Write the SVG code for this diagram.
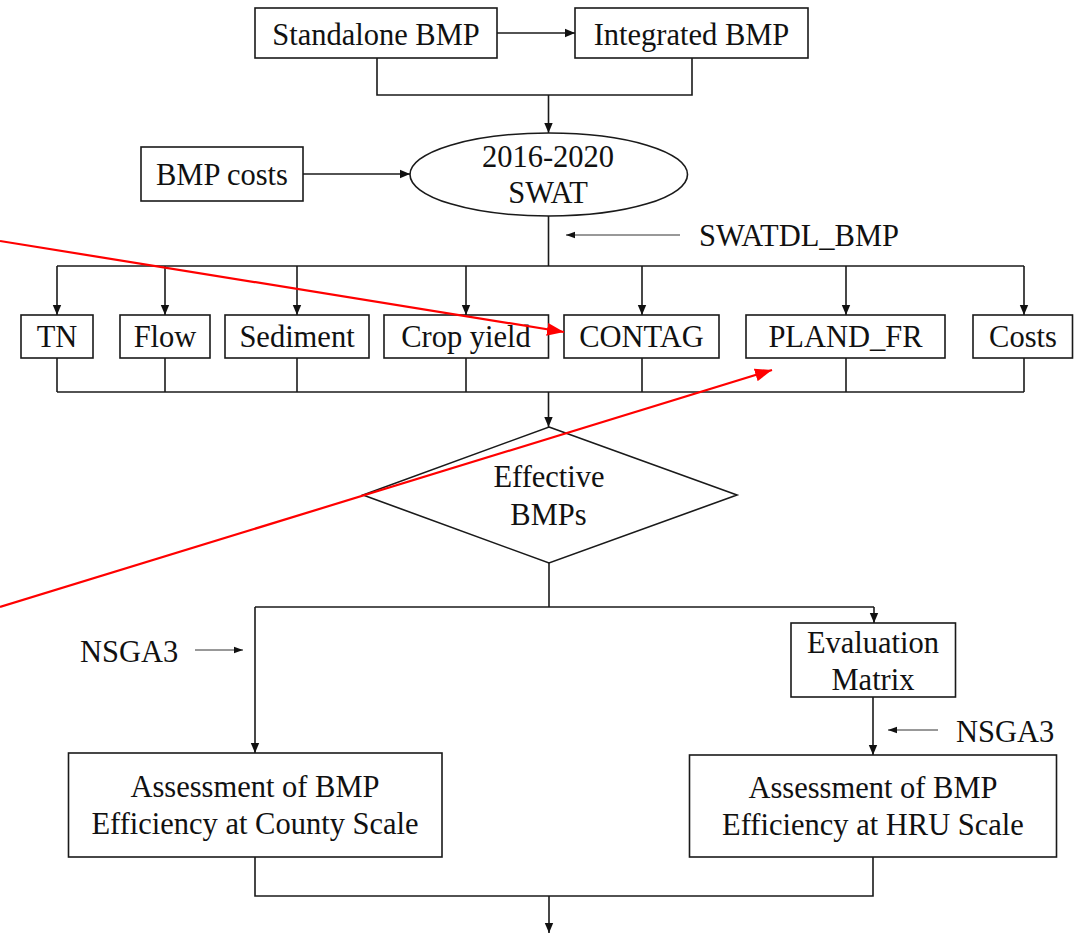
<svg xmlns="http://www.w3.org/2000/svg" width="1074" height="933" viewBox="0 0 1074 933">
  <style>
    .box { fill: #ffffff; stroke: #1a1a1a; stroke-width: 1.6; }
    .lbl { font-family: "Liberation Serif", "Times New Roman", serif; font-size: 30.5px; fill: #111111; text-anchor: middle; }
    .lbl-l { font-family: "Liberation Serif", "Times New Roman", serif; font-size: 30.5px; fill: #111111; text-anchor: start; }
    .wire { fill: none; stroke: #1a1a1a; stroke-width: 1.6; }
    .arr { fill: none; stroke: #1a1a1a; stroke-width: 1.6; marker-end: url(#head); }
    .thin { fill: none; stroke: #333333; stroke-width: 1; marker-end: url(#head-s); }
    .red { fill: none; stroke: #ff0000; stroke-width: 2.2; marker-end: url(#head-r); }
  </style>
  <defs>
    <marker id="head" markerUnits="userSpaceOnUse" markerWidth="10" markerHeight="10" refX="10" refY="5" orient="auto">
      <path d="M0,0.8 L10,5 L0,9.2 z" fill="#111111"/>
    </marker>
    <marker id="head-s" markerUnits="userSpaceOnUse" markerWidth="9" markerHeight="8" refX="9" refY="4" orient="auto">
      <path d="M0,0.8 L9,4 L0,7.2 z" fill="#111111"/>
    </marker>
    <marker id="head-r" markerUnits="userSpaceOnUse" markerWidth="17" markerHeight="14" refX="17" refY="7" orient="auto">
      <path d="M0,0.5 L17,7 L0,13.5 z" fill="#ff0000"/>
    </marker>
  </defs>
  <rect width="1074" height="933" fill="#ffffff"/>

  <!-- connectors -->
  <g id="connectors">
    <line class="arr" x1="497" y1="33" x2="575" y2="33"/>
    <polyline class="wire" points="377,58 377,95 692,95 692,58"/>
    <line class="arr" x1="548.5" y1="95" x2="548.5" y2="133"/>
    <line class="arr" x1="303" y1="174" x2="410" y2="174"/>
    <line class="thin" x1="680" y1="235" x2="566" y2="235"/>
    <line class="wire" x1="548.5" y1="216" x2="548.5" y2="266"/>
    <line class="wire" x1="57" y1="266" x2="1024" y2="266"/>
    <line class="arr" x1="57" y1="266" x2="57" y2="315"/>
    <line class="arr" x1="165" y1="266" x2="165" y2="315"/>
    <line class="arr" x1="297" y1="266" x2="297" y2="315"/>
    <line class="arr" x1="466" y1="266" x2="466" y2="315"/>
    <line class="arr" x1="642" y1="266" x2="642" y2="315"/>
    <line class="arr" x1="846" y1="266" x2="846" y2="315"/>
    <line class="arr" x1="1024" y1="266" x2="1024" y2="315"/>
    <line class="wire" x1="57" y1="358" x2="57" y2="392"/>
    <line class="wire" x1="165" y1="358" x2="165" y2="392"/>
    <line class="wire" x1="297" y1="358" x2="297" y2="392"/>
    <line class="wire" x1="466" y1="358" x2="466" y2="392"/>
    <line class="wire" x1="642" y1="358" x2="642" y2="392"/>
    <line class="wire" x1="846" y1="358" x2="846" y2="392"/>
    <line class="wire" x1="1024" y1="358" x2="1024" y2="392"/>
    <line class="wire" x1="57" y1="392" x2="1024" y2="392"/>
    <line class="arr" x1="548.5" y1="392" x2="548.5" y2="427"/>
    <line class="wire" x1="549" y1="563" x2="549" y2="607"/>
    <line class="wire" x1="255" y1="607" x2="874" y2="607"/>
    <line class="arr" x1="255" y1="607" x2="255" y2="753"/>
    <line class="arr" x1="874" y1="607" x2="874" y2="623"/>
    <line class="thin" x1="195" y1="650" x2="243" y2="650"/>
    <line class="arr" x1="873" y1="697" x2="873" y2="755"/>
    <line class="thin" x1="938" y1="730" x2="888" y2="730"/>
    <polyline class="wire" points="255,857 255,896 873,896 873,857"/>
    <line class="arr" x1="549" y1="896" x2="549" y2="933"/>
  </g>

  <!-- nodes -->
  <g id="standalone-bmp">
    <rect class="box" x="255" y="8" width="242" height="50"/>
    <text class="lbl" x="376" y="44.5">Standalone BMP</text>
  </g>
  <g id="integrated-bmp">
    <rect class="box" x="575" y="8" width="233" height="50"/>
    <text class="lbl" x="691.5" y="44.5">Integrated BMP</text>
  </g>
  <g id="bmp-costs">
    <rect class="box" x="141" y="147" width="162" height="54"/>
    <text class="lbl" x="222" y="185">BMP costs</text>
  </g>
  <g id="swat">
    <ellipse class="box" cx="548.75" cy="174.5" rx="138.75" ry="41.5"/>
    <text class="lbl" x="548" y="167">2016-2020</text>
    <text class="lbl" x="548" y="203">SWAT</text>
  </g>
  <g id="swatdl-bmp">
    <text class="lbl-l" x="699" y="246">SWATDL_BMP</text>
  </g>
  <g id="tn">
    <rect class="box" x="21" y="315" width="72" height="43"/>
    <text class="lbl" x="57" y="347">TN</text>
  </g>
  <g id="flow">
    <rect class="box" x="120" y="315" width="90" height="43"/>
    <text class="lbl" x="165" y="347">Flow</text>
  </g>
  <g id="sediment">
    <rect class="box" x="225" y="315" width="144" height="43"/>
    <text class="lbl" x="297" y="347">Sediment</text>
  </g>
  <g id="crop-yield">
    <rect class="box" x="384" y="315" width="164.5" height="43"/>
    <text class="lbl" x="466" y="347">Crop yield</text>
  </g>
  <g id="contag">
    <rect class="box" x="564" y="315" width="155" height="43"/>
    <text class="lbl" x="641.5" y="347">CONTAG</text>
  </g>
  <g id="pland-fr">
    <rect class="box" x="746" y="315" width="199" height="43"/>
    <text class="lbl" x="845.5" y="347">PLAND_FR</text>
  </g>
  <g id="costs">
    <rect class="box" x="973" y="315" width="99.5" height="43"/>
    <text class="lbl" x="1023" y="347">Costs</text>
  </g>
  <g id="effective-bmps">
    <polygon class="box" points="549,427 737,495 549,563 363,495"/>
    <text class="lbl" x="549" y="487">Effective</text>
    <text class="lbl" x="548.5" y="525">BMPs</text>
  </g>
  <g id="nsga3-county">
    <text class="lbl-l" x="80" y="662">NSGA3</text>
  </g>
  <g id="evaluation-matrix">
    <rect class="box" x="791" y="623" width="164.5" height="74"/>
    <text class="lbl" x="873" y="653">Evaluation</text>
    <text class="lbl" x="873" y="690">Matrix</text>
  </g>
  <g id="nsga3-hru">
    <text class="lbl-l" x="956" y="742">NSGA3</text>
  </g>
  <g id="county-scale">
    <rect class="box" x="68.5" y="753" width="373.5" height="104"/>
    <text class="lbl" x="255" y="797">Assessment of BMP</text>
    <text class="lbl" x="255" y="834">Efficiency at County Scale</text>
  </g>
  <g id="hru-scale">
    <rect class="box" x="689.5" y="755" width="367" height="102"/>
    <text class="lbl" x="873" y="798">Assessment of BMP</text>
    <text class="lbl" x="873" y="835">Efficiency at HRU Scale</text>
  </g>

  <!-- red pointer lines drawn over the chart -->
  <g id="pointers">
    <line class="red" x1="0" y1="241" x2="564" y2="332"/>
    <line class="red" x1="0" y1="607" x2="772" y2="370"/>
  </g>
</svg>
